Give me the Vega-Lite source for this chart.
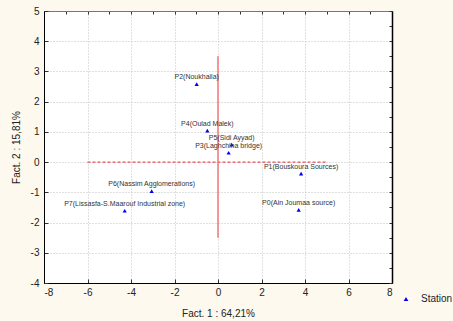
{
  "$schema": "https://vega.github.io/schema/vega-lite/v6.json",
  "autosize": "none",
  "padding": {"left": 44, "top": 11, "right": 61, "bottom": 38},
  "width": 348,
  "height": 272,
  "background": "#fdf9ee",
  "config": {
    "view": {"fill": "white", "stroke": null},
    "font": "Liberation Sans",
    "axis": {
      "labelFont": "Liberation Sans",
      "titleFont": "Liberation Sans",
      "labelFontSize": 10,
      "titleFontSize": 10,
      "titleFontWeight": "normal",
      "labelColor": "#222",
      "titleColor": "#222",
      "domainColor": "#000",
      "tickColor": "#333",
      "gridColor": "#c0c0c0",
      "gridDash": [1, 2]
    }
  },
  "datasets": {
    "pts": [
      {"x": 3.71, "y": -1.58, "label": "P0(Ain Joumaa source)", "series": "Station"},
      {"x": 3.82, "y": -0.38, "label": "P1(Bouskoura Sources)", "series": "Station"},
      {"x": -0.98, "y": 2.58, "label": "P2(Noukhaila)", "series": "Station"},
      {"x": 0.49, "y": 0.31, "label": "P3(Laghchiha bridge)", "series": "Station"},
      {"x": -0.49, "y": 1.04, "label": "P4(Oulad Malek)", "series": "Station"},
      {"x": 0.63, "y": 0.58, "label": "P5(Sidi Ayyad)", "series": "Station"},
      {"x": -3.05, "y": -0.96, "label": "P6(Nassim Agglomerations)", "series": "Station"},
      {"x": -4.29, "y": -1.61, "label": "P7(Lissasfa-S.Maarouf Industrial zone)", "series": "Station"}
    ]
  },
  "resolve": {"axis": {"x": "independent", "y": "independent"}},
  "layer": [
    {
      "data": {"values": [{"x": -6, "x2": 5, "y": 0}]},
      "mark": {"type": "rule", "color": "#e8272b", "strokeDash": [3, 2], "strokeWidth": 1},
      "encoding": {
        "x": {"field": "x", "type": "quantitative", "scale": {"domain": [-8, 8], "nice": false, "zero": false},
          "axis": {"orient": "bottom", "values": [-8, -6, -4, -2, 0, 2, 4, 6, 8], "labelExpr": "toString(datum.value)", "title": "Fact. 1 : 64,21%", "titlePadding": 11, "tickSize": -4, "labelPadding": 8, "grid": true}},
        "x2": {"field": "x2"},
        "y": {"field": "y", "type": "quantitative", "scale": {"domain": [-4, 5], "nice": false, "zero": false},
          "axis": {"orient": "left", "values": [-4, -3, -2, -1, 0, 1, 2, 3, 4, 5], "labelExpr": "toString(datum.value)", "title": "Fact. 2 : 15,81%", "titlePadding": 9, "tickSize": -4, "labelPadding": 9, "grid": true}}
      }
    },
    {
      "data": {"values": [{"x": 0, "y": -2.5, "y2": 3.5}]},
      "mark": {"type": "rule", "color": "#f07878", "strokeWidth": 1.5},
      "encoding": {
        "x": {"field": "x", "type": "quantitative",
          "axis": {"orient": "top", "values": [-8, -7, -6, -5, -4, -3, -2, -1, 0, 1, 2, 3, 4, 5, 6, 7, 8], "labels": false, "title": null, "tickSize": -3, "grid": false, "domainColor": "#777"}},
        "y": {"field": "y", "type": "quantitative",
          "axis": {"orient": "right", "values": [-4, -3.5, -3, -2.5, -2, -1.5, -1, -0.5, 0, 0.5, 1, 1.5, 2, 2.5, 3, 3.5, 4, 4.5, 5], "labels": false, "title": null, "tickSize": -3, "grid": false, "domainWidth": 1.5}},
        "y2": {"field": "y2"}
      }
    },
    {
      "data": {"name": "pts"},
      "mark": {"type": "point", "shape": "triangle-up", "filled": true, "size": 18, "opacity": 1},
      "encoding": {
        "x": {"field": "x", "type": "quantitative", "axis": null},
        "y": {"field": "y", "type": "quantitative", "axis": null},
        "color": {"field": "series", "type": "nominal", "scale": {"domain": ["Station"], "range": ["#0000ee"]},
          "legend": {"title": null, "orient": "none", "legendX": 357, "legendY": 283, "symbolType": "triangle-up", "symbolSize": 22, "labelFontSize": 10, "labelFont": "Liberation Sans", "labelColor": "#222", "labelOffset": 10}}
      }
    },
    {
      "data": {"name": "pts"},
      "mark": {"type": "text", "fontSize": 7, "dy": -7, "color": "#333", "font": "Liberation Sans"},
      "encoding": {
        "x": {"field": "x", "type": "quantitative", "axis": null},
        "y": {"field": "y", "type": "quantitative", "axis": null},
        "text": {"field": "label"}
      }
    }
  ]
}
